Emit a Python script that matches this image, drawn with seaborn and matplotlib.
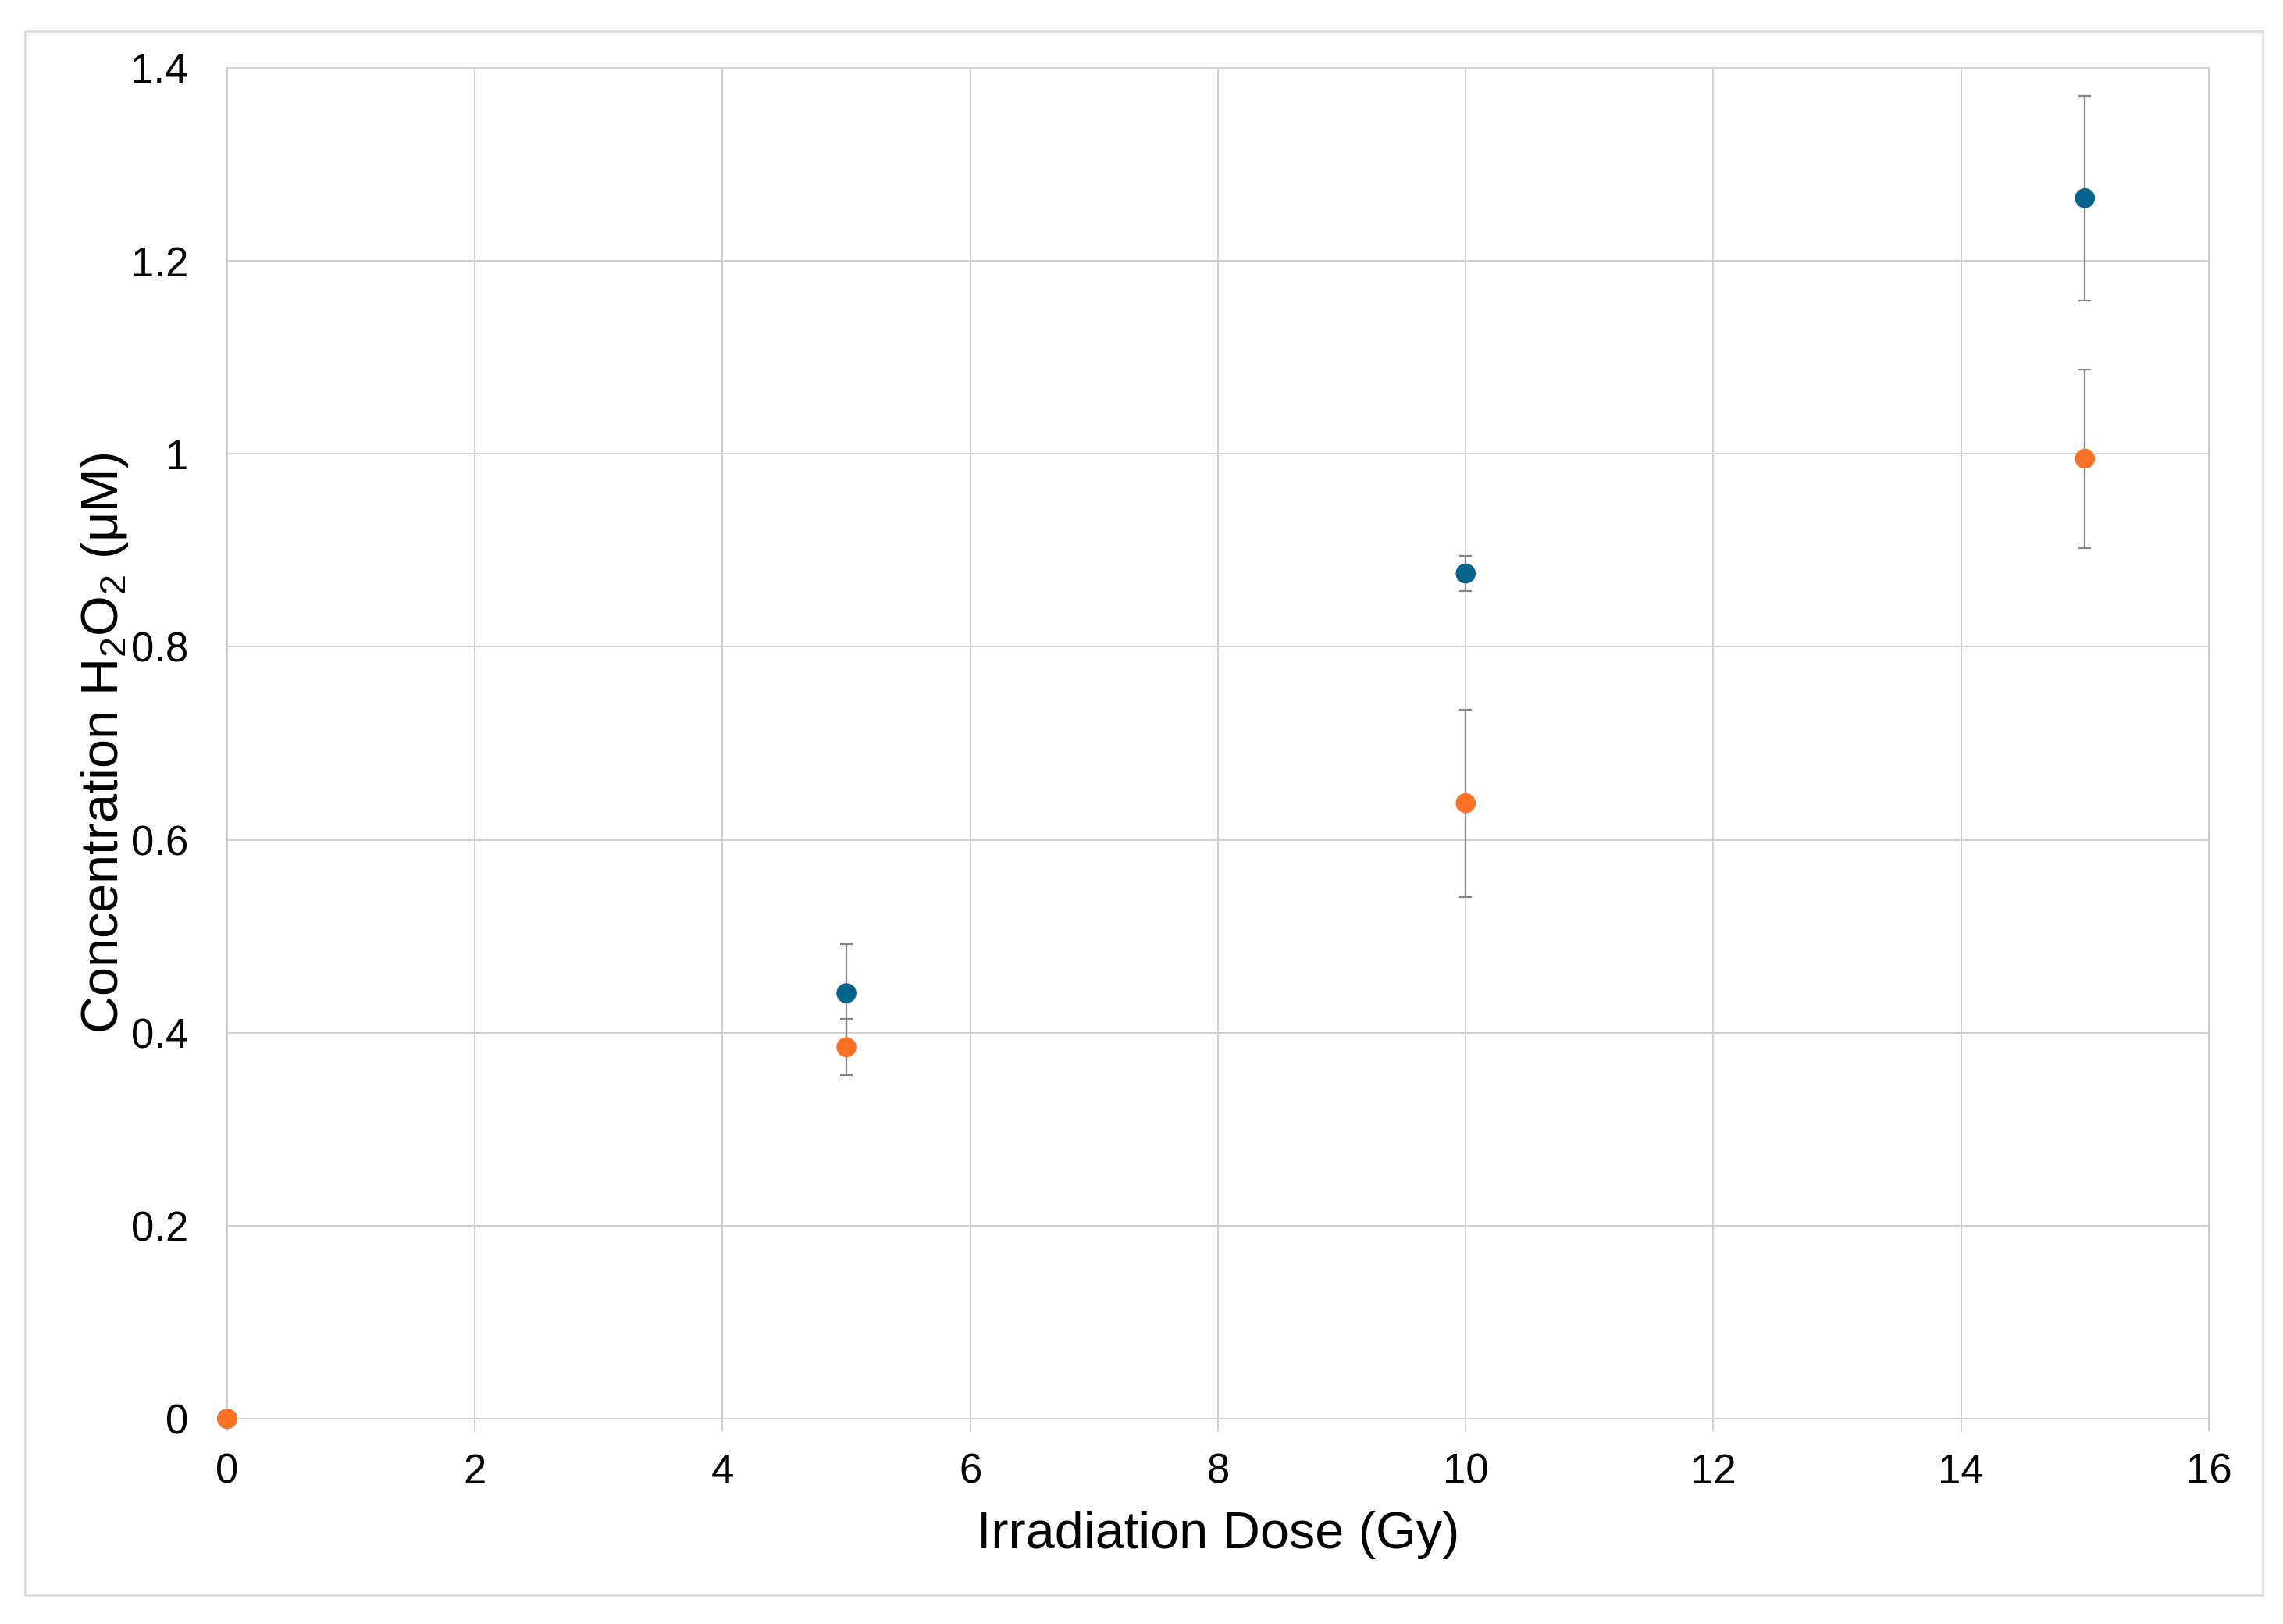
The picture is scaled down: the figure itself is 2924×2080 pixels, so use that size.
import pandas as pd
import seaborn as sns
import matplotlib.pyplot as plt
from matplotlib.patches import Rectangle

# values
dose = [0, 5, 10, 15]
blue_conc = [0.0, 0.441, 0.876, 1.265]
blue_err = [0.0, 0.051, 0.018, 0.106]
orange_conc = [0.0, 0.385, 0.638, 0.995]
orange_err = [0.0, 0.029, 0.097, 0.093]

series_names = ['Series 1', 'Series 2']
series_colors = ['#03658c', '#fd7127']

x_ticks = [0, 2, 4, 6, 8, 10, 12, 14, 16]
y_ticks = [0, 0.2, 0.4, 0.6, 0.8, 1.0, 1.2, 1.4]
y_tick_labels = ['0', '0.2', '0.4', '0.6', '0.8', '1', '1.2', '1.4']

x_label = 'Irradiation Dose (Gy)'
y_label = 'Concentration H$_2$O$_2$ (μM)'

grid_col = '#cfcfcf'
err_col = '#858585'

df = pd.DataFrame({
    'dose': dose + dose,
    'conc': blue_conc + orange_conc,
    'err': blue_err + orange_err,
    'series': [series_names[0]] * len(dose) + [series_names[1]] * len(dose),
})

sns.set_theme(style='whitegrid')
plt.rcParams['font.family'] = ['Liberation Sans', 'DejaVu Sans']
plt.rcParams['mathtext.fontset'] = 'custom'
plt.rcParams['mathtext.rm'] = 'Liberation Sans'
plt.rcParams['mathtext.it'] = 'Liberation Sans:italic'

fig = plt.figure(figsize=(29.24, 20.80), dpi=100)
ax = fig.add_axes([0.0995, 0.1264, 0.868, 0.8318])

# error bars first, points on top
for name in series_names:
    sub = df[df['series'] == name]
    ax.errorbar(sub['dose'], sub['conc'], yerr=sub['err'], fmt='none',
                ecolor=err_col, elinewidth=1.6, capsize=5.5, capthick=1.6,
                zorder=2)

sns.scatterplot(data=df, x='dose', y='conc', hue='series',
                palette=series_colors, hue_order=series_names,
                s=340, linewidth=0, legend=False, ax=ax, zorder=3,
                clip_on=False)

ax.set_xlim(0, 16)
ax.set_ylim(0, 1.4)
ax.set_xticks(x_ticks)
ax.set_xticklabels([str(t) for t in x_ticks])
ax.set_yticks(y_ticks)
ax.set_yticklabels(y_tick_labels)

ax.grid(True, color=grid_col, linewidth=1.4)
for sp in ax.spines.values():
    sp.set_color(grid_col)
    sp.set_linewidth(1.4)

ax.tick_params(axis='x', length=11.5, width=1.4, color=grid_col, pad=20,
               labelsize=38, labelcolor='black', bottom=True)
ax.tick_params(axis='y', length=0, pad=36, labelsize=38, labelcolor='black')

ax.set_xlabel(x_label, fontsize=48, color='black')
ax.set_ylabel(y_label, fontsize=48, color='black')
ax.xaxis.set_label_coords(0.5, -0.068)
ax.yaxis.set_label_coords(-0.049, 0.5)

# thin border round the whole picture
fig.patches.append(Rectangle((0.011, 0.018), 0.98, 0.963, transform=fig.transFigure,
                             fill=False, edgecolor='#dddddd', linewidth=2))

fig.savefig('out.png', dpi=100, facecolor='white')
